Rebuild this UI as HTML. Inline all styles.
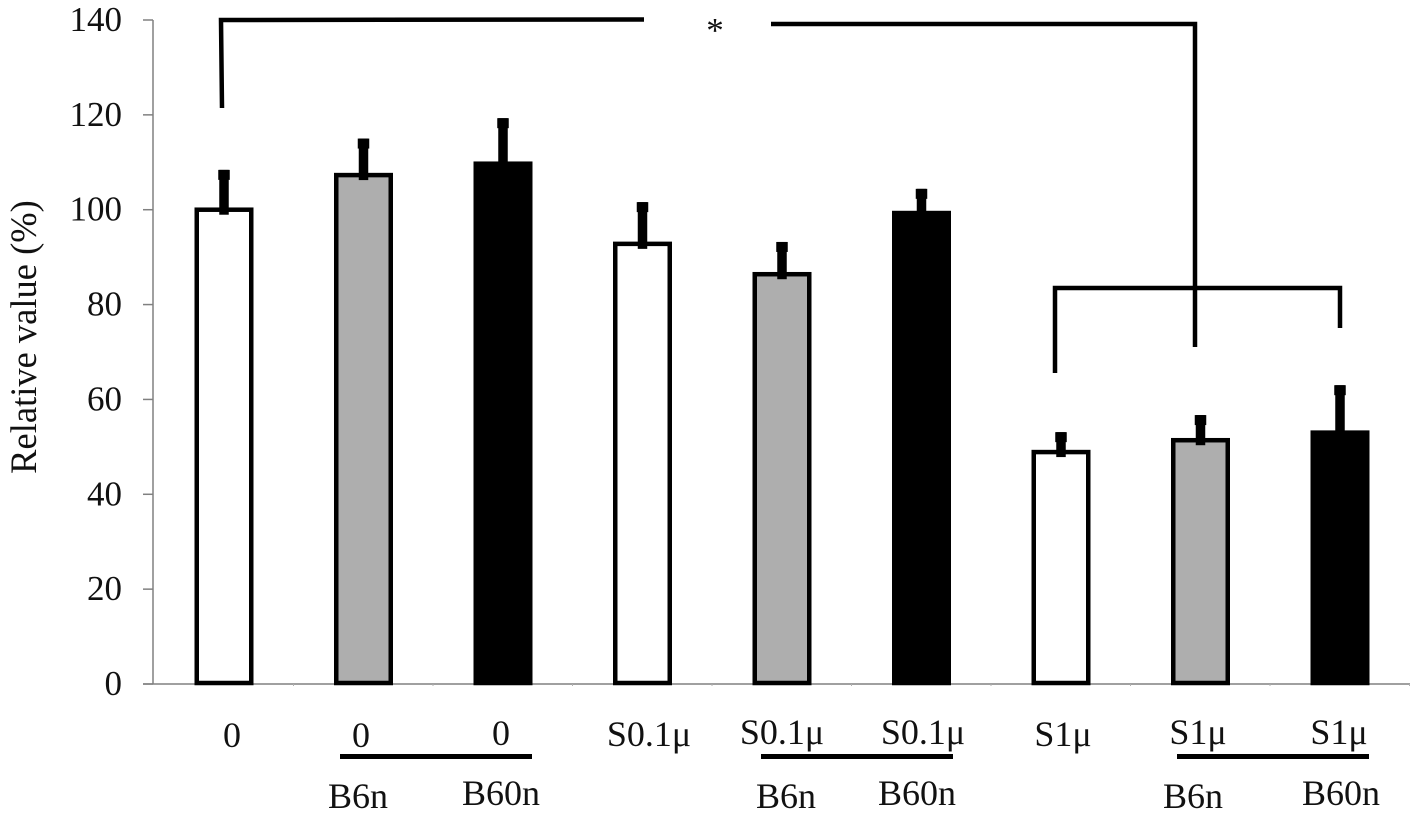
<!DOCTYPE html>
<html lang="en">
<head>
<meta charset="utf-8">
<title>Relative value bar chart</title>
<style>
html,body{margin:0;padding:0;background:#fff;}
svg{display:block;font-family:"Liberation Serif",serif;fill:#111;}
text{fill:#111;}
</style>
</head>
<body>
<svg id="chart" xmlns="http://www.w3.org/2000/svg" width="1417" height="816" viewBox="0 0 1417 816">
  <rect x="0" y="0" width="1417" height="816" fill="#fff"/>
  <g id="axes"></g>
  <g id="bars"></g>
  <text transform="translate(36,337) rotate(-90)" text-anchor="middle" font-size="36.500">Relative value (%)</text>

  <g font-size="36" text-anchor="middle">
    <text x="232" y="747">0</text>
    <text x="361" y="747">0</text>
    <text x="501" y="745">0</text>
    <text x="649" y="746">S0.1μ</text>
    <text x="782" y="744">S0.1μ</text>
    <text x="923" y="744">S0.1μ</text>
    <text x="1063" y="746">S1μ</text>
    <text x="1198" y="744">S1μ</text>
    <text x="1339" y="744">S1μ</text>
    <text x="358" y="808">B6n</text>
    <text x="501" y="805">B60n</text>
    <text x="786" y="808">B6n</text>
    <text x="917" y="805">B60n</text>
    <text x="1193" y="808">B6n</text>
    <text x="1341" y="805">B60n</text>
  </g>

  <g fill="#000">
    <rect x="340" y="754" width="192" height="5"/>
    <rect x="761" y="754" width="192" height="5"/>
    <rect x="1177" y="754" width="192" height="5"/>
  </g>

  <g fill="none" stroke="#000" stroke-width="4.500">
    <path d="M222 108 L221 20 L644 19.500"/>
    <path d="M771 24 L1195 24 L1195 347"/>
    <path d="M1055 373 L1055 288 L1340 288 L1340 328"/>
  </g>
  <text x="715" y="42" font-size="35" text-anchor="middle">*</text>
</svg>
<script>
const categories = ["0", "0+B6n", "0+B60n", "S0.1μ", "S0.1μ+B6n", "S0.1μ+B60n", "S1μ", "S1μ+B6n", "S1μ+B60n"];
const barValues = [100, 107.3, 109.7, 92.8, 86.4, 99.3, 48.9, 51.4, 53];
const errorTops = [108.4, 115, 119.3, 101.6, 93.2, 104.4, 53.1, 56.7, 63];
const yTickLabels = [0, 20, 40, 60, 80, 100, 120, 140];
const treatmentFills = ["#fff", "#aeaeae", "#000"];

const NS = "http://www.w3.org/2000/svg";
const plotLeft = 153;
const plotRight = 1410;
const plotBottom = 684;
const plotTop = 20;
const bandWidth = 139.5;
const yMax = 140;

function yScale(v) {
  return plotBottom - (v / yMax) * (plotBottom - plotTop);
}
function xScale(i) {
  return plotLeft + 1 + bandWidth * (i + 0.5);
}
function make(tag, attrs) {
  const el = document.createElementNS(NS, tag);
  for (const k in attrs) {
    el.setAttribute(k, attrs[k]);
  }
  return el;
}

const axes = document.getElementById("axes");
const bars = document.getElementById("bars");

const yAxisLine = make("line", { x1: plotLeft, x2: plotLeft, y1: plotTop, y2: plotBottom, stroke: "#808080", "stroke-width": 1.5 });


axes.appendChild(yAxisLine);

const xAxisLine = make("line", { x1: 143, x2: plotRight, y1: plotBottom, y2: plotBottom, stroke: "#808080", "stroke-width": 1.5 });


axes.appendChild(xAxisLine);

yTickLabels.forEach(function (t) {
  const y = yScale(t);
  const tick = make("line", { x1: 143, x2: plotLeft, y1: y, y2: y, stroke: "#808080", "stroke-width": 1.5 });
  
  
  axes.appendChild(tick);
  const label = make("text", { x: 122, y: y + 11, "font-size": 35, "text-anchor": "end" });
  
  
  label.textContent = t;
  axes.appendChild(label);
});

categories.forEach(function (c, i) {
  const x = plotLeft + 1 + bandWidth * (i + 1);
  const tick = make("line", { x1: x, x2: x, y1: plotBottom, y2: plotBottom + 2, stroke: "#b0b0b0", "stroke-width": 1 });
  
  
  axes.appendChild(tick);
});

categories.forEach(function (c, i) {
  const cx = xScale(i);
  const top = yScale(barValues[i]);
  const bar = make("rect", {
    x: cx - 27,
    y: top,
    width: 54.5,
    height: plotBottom - top - 1,
    fill: treatmentFills[i % 3],
    stroke: "#000",
    "stroke-width": 4.5
  });
  
  
  bars.appendChild(bar);

  const errTop = yScale(errorTops[i]);
  const stem = make("rect", { x: cx - 4.5, y: errTop, width: 9.5, height: top + 5 - errTop, fill: "#000" });
  
  
  bars.appendChild(stem);

  const cap = make("rect", { x: cx - 5.5, y: errTop, width: 11.5, height: 10, fill: "#000" });
  
  
  bars.appendChild(cap);
});
</script>
</body>
</html>
